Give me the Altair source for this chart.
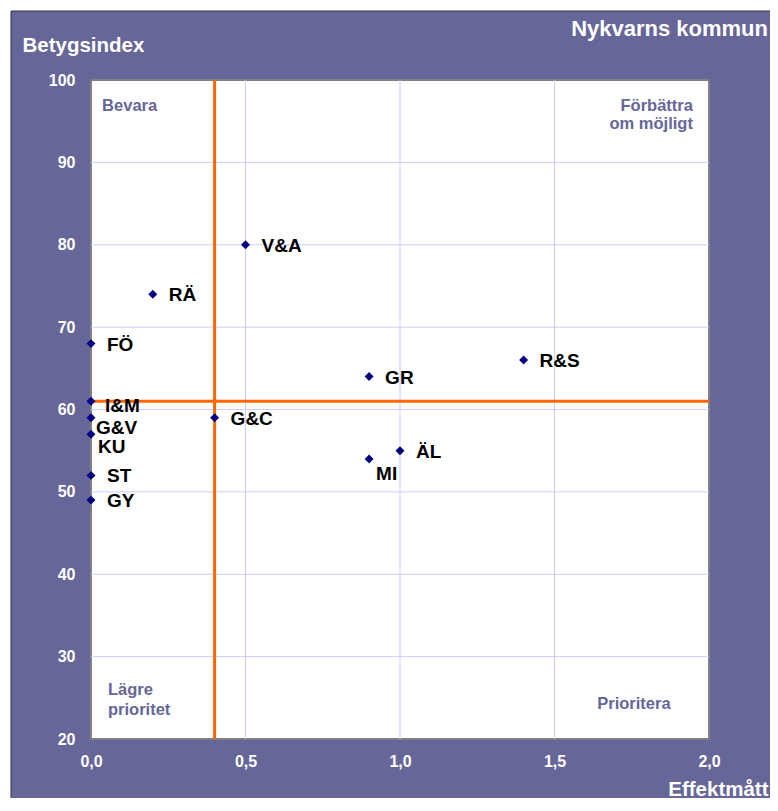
import altair as alt
import pandas as pd

# ---- data -------------------------------------------------------------
chart_title = "Nykvarns kommun"
y_title = "Betygsindex"
x_title = "Effektmått"

labels = ["V&A", "RÄ", "FÖ", "GR", "R&S", "I&M", "G&V", "G&C", "KU", "ÄL", "MI", "ST", "GY"]
effekt = [0.5, 0.2, 0.0, 0.9, 1.4, 0.0, 0.0, 0.4, 0.0, 1.0, 0.9, 0.0, 0.0]
betyg = [80, 74, 68, 64, 66, 61, 59, 59, 57, 55, 54, 52, 49]

x_ticks = [0.0, 0.5, 1.0, 1.5, 2.0]
y_ticks = [20, 30, 40, 50, 60, 70, 80, 90, 100]

ref_x = [0.4]   # vertical orange line
ref_y = [61]    # horizontal orange line

quad_text = ["Bevara", "Förbättra", "om möjligt", "Lägre", "prioritet", "Prioritera"]
quad_x = [0.036, 1.948, 1.948, 0.055, 0.055, 1.757]
quad_y = [96.2, 96.2, 94.05, 25.3, 22.9, 23.6]
quad_side = ["left", "right", "right", "left", "left", "center"]

# ---- styling ----------------------------------------------------------
FONT = "Liberation Sans"
PURPLE = "#666699"
ORANGE = "#FF6600"
GRID = "#CCCCFF"
W, H = 618, 659

pts = pd.DataFrame({"label": labels, "effekt": effekt, "betyg": betyg})
quad = pd.DataFrame({"t": quad_text, "x": quad_x, "y": quad_y, "side": quad_side})
one = pd.DataFrame({"t": [chart_title]})
frame = pd.DataFrame({"x": [x_ticks[0]], "x2": [x_ticks[-1]], "y": [y_ticks[0]], "y2": [y_ticks[-1]]})
xgrid = pd.DataFrame({"v": [v for v in x_ticks if x_ticks[0] < v < x_ticks[-1]]})
ygrid = pd.DataFrame({"v": [v for v in y_ticks if y_ticks[0] < v < y_ticks[-1]]})

xscale = alt.Scale(domain=[x_ticks[0], x_ticks[-1]], nice=False, zero=False)
yscale = alt.Scale(domain=[y_ticks[0], y_ticks[-1]], nice=False, zero=False)

ax_x = alt.Axis(
    values=x_ticks, labelExpr="replace(format(datum.value, '.1f'), '.', ',')",
    labelColor="white", labelFont=FONT, labelFontSize=16, labelFontWeight="bold",
    labelPadding=14, ticks=False, tickSize=0, domain=False, grid=False,
    labelFlush=False, labelOverlap=False,
    title=x_title, titleColor="white", titleFont=FONT, titleFontSize=20.5,
    titleFontWeight="bold", titleX=677, titleY=56, titleAlign="right",
    titleBaseline="alphabetic", titleAngle=0, zindex=1,
)
ax_y = alt.Axis(
    values=y_ticks, format="d",
    labelColor="white", labelFont=FONT, labelFontSize=16, labelFontWeight="bold",
    labelPadding=16, ticks=False, tickSize=0, domain=False, grid=False,
    labelFlush=False, labelOverlap=False,
    title=y_title, titleColor="white", titleFont=FONT, titleFontSize=20.5,
    titleFontWeight="bold", titleX=-69, titleY=-29, titleAlign="left",
    titleBaseline="alphabetic", titleAngle=0, zindex=1,
)


def X(f):
    return alt.X(f, type="quantitative", scale=xscale, axis=ax_x)


def Y(f):
    return alt.Y(f, type="quantitative", scale=yscale, axis=ax_y)


# purple panel
panel = alt.Chart(one).mark_rect(fill=PURPLE, stroke="#333344", strokeWidth=1).encode(
    x=alt.value(-80), x2=alt.value(720), y=alt.value(-69), y2=alt.value(760)
)
# white plot area
plot_bg = alt.Chart(frame).mark_rect(fill="white", stroke="#808080", strokeWidth=2).encode(
    x=X("x"), x2="x2", y=Y("y"), y2="y2"
)
vgrid = alt.Chart(xgrid).mark_rule(color=GRID, strokeWidth=1).encode(x=X("v"))
hgrid = alt.Chart(ygrid).mark_rule(color=GRID, strokeWidth=1).encode(y=Y("v"))
vref = alt.Chart(pd.DataFrame({"v": ref_x})).mark_rule(color=ORANGE, strokeWidth=3).encode(x=X("v"))
href = alt.Chart(pd.DataFrame({"v": ref_y})).mark_rule(color=ORANGE, strokeWidth=3).encode(y=Y("v"))

points = alt.Chart(pts).mark_point(shape="diamond", filled=True, color="#000080", size=80, opacity=1).encode(
    x=X("effekt"), y=Y("betyg")
)

label_groups = [
    (["V&A", "RÄ", "FÖ", "GR", "R&S", "G&C", "ST", "GY", "ÄL"], 16, 1),
    (["I&M"], 14, 5),
    (["G&V"], 5, 10),
    (["KU"], 7, 13),
    (["MI"], 7, 15),
]
label_layers = []
for names, dx, dy in label_groups:
    label_layers.append(
        alt.Chart(pts).transform_filter(alt.FieldOneOfPredicate(field="label", oneOf=names))
        .mark_text(align="left", baseline="middle", dx=dx, dy=dy, font=FONT, fontSize=19,
                   fontWeight="bold", color="black")
        .encode(x=X("effekt"), y=Y("betyg"), text="label")
    )

quad_layers = []
for side in ["left", "right", "center"]:
    quad_layers.append(
        alt.Chart(quad).transform_filter(alt.datum.side == side)
        .mark_text(align=side, baseline="alphabetic", font=FONT, fontSize=16.5,
                   fontWeight="bold", color=PURPLE)
        .encode(x=X("x"), y=Y("y"), text="t")
    )

title_mark = alt.Chart(one).mark_text(
    align="right", baseline="alphabetic", font=FONT, fontSize=22, fontWeight="bold", color="white"
).encode(x=alt.value(677), y=alt.value(-44), text="t")

chart = alt.layer(
    panel, plot_bg, vgrid, hgrid, vref, href, points, *label_layers, *quad_layers, title_mark
).properties(
    width=W, height=H,
    autosize=alt.AutoSizeParams(type="none"),
    padding={"left": 83, "top": 72, "right": 61, "bottom": 59},
    background="white",
).configure_view(stroke=None)

chart.save("out.html", embed_options={"renderer": "svg", "actions": False})
